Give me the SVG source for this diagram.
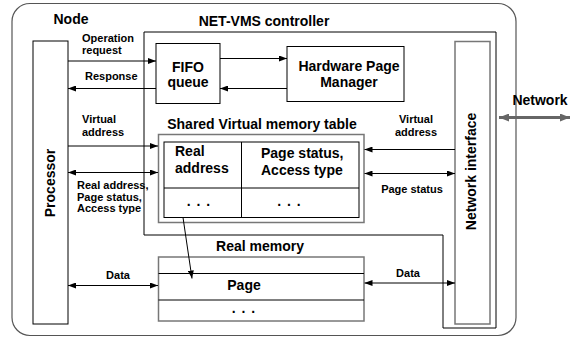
<svg xmlns="http://www.w3.org/2000/svg" width="574" height="337" viewBox="0 0 574 337">
<defs>
<marker id="ah" viewBox="0 0 8 6" refX="8" refY="3" markerWidth="8" markerHeight="6" markerUnits="userSpaceOnUse" orient="auto-start-reverse"><path d="M0,0 L8,3 L0,6 Z" fill="#000"/></marker>
<marker id="ahg" viewBox="0 0 10 8" refX="10" refY="4" markerWidth="10" markerHeight="8" markerUnits="userSpaceOnUse" orient="auto-start-reverse"><path d="M0,0 L10,4 L0,8 Z" fill="#666"/></marker>
<style>
text{font-family:"Liberation Sans",Arial,sans-serif;font-weight:bold;fill:#000}
.t14{font-size:14px}
.t11{font-size:11px}
.c{text-anchor:middle}
.box{fill:#fff;stroke:#000;stroke-width:1}
.gbox{fill:#fff;stroke:#777;stroke-width:1.5}
.ln{fill:none;stroke:#000;stroke-width:1}
.conn{fill:none;stroke:#000;stroke-width:1}
</style>
</defs>
<rect x="12" y="3.5" width="504" height="332" rx="18" fill="#fff" stroke="#555" stroke-width="1.2"/>
<g id="node-label"><text class="t14" x="71" y="24" text-anchor="middle">Node</text></g>
<g id="controller">
<path class="ln" d="M144,32 H496 V328 H443 V235 H144 Z"/>
<text class="t14 c" x="264" y="26">NET-VMS controller</text>
</g>
<g id="processor">
<rect class="box" x="33" y="41" width="35" height="283" stroke="#333"/>
<text class="t14 c" transform="translate(54.5,183) rotate(-90)">Processor</text>
</g>
<g id="network-interface">
<rect class="gbox" x="455" y="41.5" width="35" height="282.5" stroke="#666"/>
<text class="t14 c" transform="translate(475.5,171.5) rotate(-90)">Network interface</text>
</g>
<g id="fifo">
<rect class="box" x="156" y="43.5" width="64" height="60" stroke="#444"/>
<text class="t14 c" x="188" y="71.5">FIFO</text>
<text class="t14 c" x="188" y="86.5">queue</text>
</g>
<g id="hpm">
<rect class="box" x="287" y="46.5" width="117" height="55" stroke="#444"/>
<text class="t14 c" x="349" y="71">Hardware Page</text>
<text class="t14 c" x="349" y="86.5">Manager</text>
</g>
<g id="vm-table">
<text class="t14 c" x="262" y="129">Shared Virtual memory table</text>
<rect class="gbox" x="158.5" y="134.5" width="205.5" height="88"/>
<rect class="box" x="164" y="142" width="195" height="75.5" stroke-width="1.3"/>
<line class="ln" x1="241.5" y1="142" x2="241.5" y2="217.5"/>
<line class="ln" x1="164" y1="188" x2="359" y2="188"/>
<text class="t14" x="175" y="156">Real</text>
<text class="t14" x="175" y="172.5">address</text>
<text class="t14" x="261" y="157.5">Page status,</text>
<text class="t14" x="261" y="175">Access type</text>
<text class="t14 c" x="199" y="205.5" letter-spacing="1">. . .</text>
<text class="t14 c" x="289.5" y="205.5" letter-spacing="1">. . .</text>
</g>
<g id="real-memory">
<text class="t14 c" x="260" y="251">Real memory</text>
<rect class="gbox" x="158.5" y="257" width="205.5" height="64"/>
<line class="ln" x1="158.5" y1="273.5" x2="364" y2="273.5" stroke="#222"/>
<line class="ln" x1="158.5" y1="300" x2="364" y2="300" stroke="#555" stroke-width="1.5"/>
<text class="t14 c" x="244" y="290">Page</text>
<text class="t14 c" x="244" y="313" letter-spacing="1">. . .</text>
</g>
<g id="network"><text class="t14 c" x="540" y="105">Network</text></g>
<g id="connectors">
<line class="conn" x1="68" y1="61" x2="156" y2="61" marker-end="url(#ah)"/>
<line class="conn" x1="156" y1="88.5" x2="68" y2="88.5" marker-end="url(#ah)"/>
<line class="conn" x1="220" y1="58.5" x2="287" y2="58.5" marker-end="url(#ah)"/>
<line class="conn" x1="287" y1="88.5" x2="220" y2="88.5" marker-end="url(#ah)"/>
<line class="conn" x1="68" y1="146" x2="158" y2="146" marker-end="url(#ah)"/>
<line class="conn" x1="68" y1="172.5" x2="158" y2="172.5" marker-start="url(#ah)" marker-end="url(#ah)"/>
<line class="conn" x1="455" y1="149.5" x2="364.5" y2="149.5" marker-end="url(#ah)"/>
<line class="conn" x1="364.5" y1="173.5" x2="455" y2="173.5" marker-start="url(#ah)" marker-end="url(#ah)"/>
<line class="conn" x1="183" y1="217.5" x2="192" y2="278.5" stroke-width="0.8" marker-end="url(#ah)"/>
<line class="conn" x1="68" y1="285.5" x2="158" y2="285.5" marker-start="url(#ah)" marker-end="url(#ah)"/>
<line class="conn" x1="364.5" y1="283" x2="455" y2="283" marker-start="url(#ah)" marker-end="url(#ah)"/>
<line x1="499" y1="117.5" x2="570" y2="117.5" stroke="#666" stroke-width="3" marker-start="url(#ahg)" marker-end="url(#ahg)"/>
</g>
<g id="labels">
<text class="t11" x="82" y="42">Operation</text>
<text class="t11" x="82" y="54">request</text>
<text class="t11" x="85" y="80">Response</text>
<text class="t11" x="82" y="123">Virtual</text>
<text class="t11" x="82" y="136">address</text>
<text class="t11" x="77" y="189">Real address,</text>
<text class="t11" x="77" y="200.5">Page status,</text>
<text class="t11" x="77" y="212">Access type</text>
<text class="t11 c" x="416" y="123">Virtual</text>
<text class="t11 c" x="416" y="136">address</text>
<text class="t11 c" x="412" y="193">Page status</text>
<text class="t11 c" x="118" y="279">Data</text>
<text class="t11 c" x="408" y="277">Data</text>
</g>
</svg>
